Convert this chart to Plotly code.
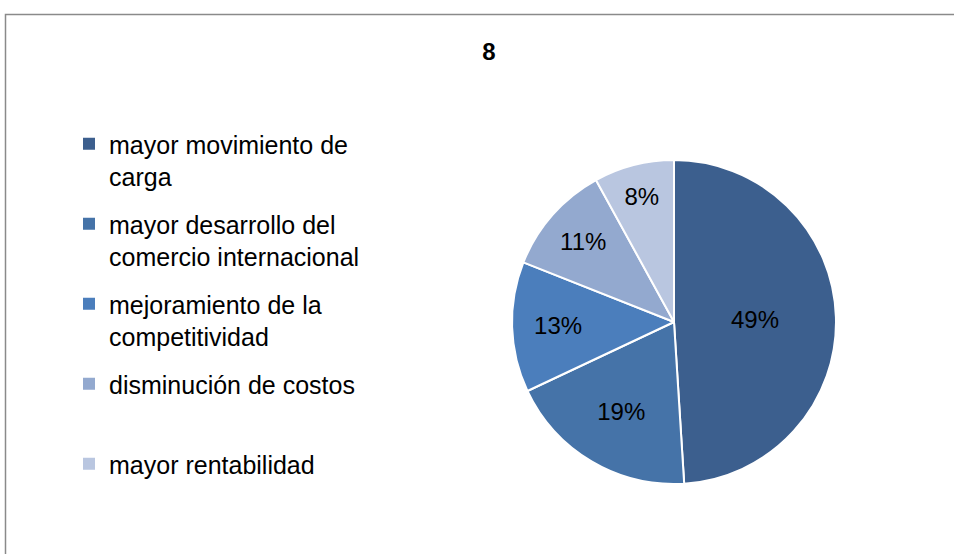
import plotly.graph_objects as go

labels = ['mayor movimiento de<br>carga',
          'mayor desarrollo del<br>comercio internacional',
          'mejoramiento de la<br>competitividad',
          'disminución de costos<br> ',
          'mayor rentabilidad']
values = [49, 19, 13, 11, 8]
colors = ['#3C5F8E', '#4573A8', '#4B7EBC', '#93A9CF', '#B9C6E0']

fig = go.Figure()
fig = fig.add_trace(
            go.Pie(
                labels=labels,
                values=values,
                sort=False,
                direction='clockwise',
                rotation=0,
                marker=dict(colors=colors, line=dict(color='white', width=2)),
                texttemplate='%{percent:.0%}',
                textposition='inside',
                insidetextorientation='horizontal',
                textfont=dict(size=24, color='black'),
                showlegend=False,
                hoverinfo='label+percent',
                domain=dict(x=[512/954, 836/954], y=[70/554, 394/554])
                )
                    )

# legend entries, one group each so the spacing can be set
for i in range(len(labels)):
    fig = fig.add_trace(
                go.Scatter(
                    x=[None], y=[None],
                    mode='markers',
                    name=labels[i],
                    legendgroup='g' + str(i),
                    marker=dict(symbol='square', size=12, color=colors[i])
                    )
                        )

fig = fig.update_xaxes(visible=False)
fig = fig.update_yaxes(visible=False)
fig = fig.update_layout(
                width=954, height=554,
                paper_bgcolor='white',
                plot_bgcolor='white',
                margin=dict(l=0, r=0, t=0, b=0),
                font=dict(family='Liberation Sans', color='black'),
                title={
                       'text': '<b>8</b>',
                       'x': 489/954,
                       'xanchor': 'center',
                       'y': 1 - 52/554,
                       'yanchor': 'middle',
                       'font': dict(size=24, color='black')
                             },
                legend=dict(
                       x=69/954, xanchor='left',
                       y=1 - 121/554, yanchor='top',
                       font=dict(size=25, color='black'),
                       tracegroupgap=12,
                       traceorder='grouped',
                       valign='top',
                       itemwidth=30,
                       bgcolor='rgba(0,0,0,0)'
                             ),
                shapes=[dict(type='rect', xref='paper', yref='paper',
                             x0=5.5/954, x1=1.05, y0=-0.05, y1=1 - 14.5/554,
                             line=dict(color='#8A8A8A', width=1.5))]
                )

fig.write_html("out.html", config={'displayModeBar': False},
               post_script="document.body.style.margin='0';")
